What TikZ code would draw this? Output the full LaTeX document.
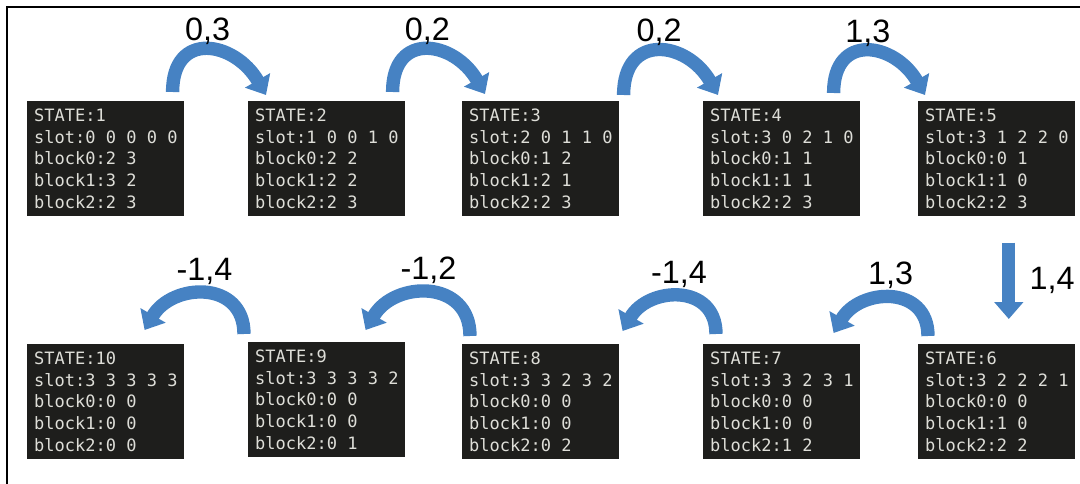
\documentclass[tikz,border=0pt]{standalone}
\usepackage{fontspec}
\setmainfont{Liberation Sans}
\newfontfamily\statefont{DejaVu Sans Mono}
\usetikzlibrary{arrows.meta}
\definecolor{boxbg}{RGB}{30,30,28}
\definecolor{boxfg}{RGB}{222,222,216}
\definecolor{arrowblue}{RGB}{70,130,195}

\begin{document}
\begin{tikzpicture}[x=0.025cm, y=0.025cm]

\tikzstyle{statebox} = [anchor=north west, rectangle, fill=boxbg, text=boxfg, font=\statefont\fontsize{12.1}{15.6}\selectfont, align=left, inner xsep=0pt, inner ysep=0pt, minimum width=3.925cm, minimum height=2.875cm]
\tikzstyle{movearrow} = [line width=9.5pt, arrowblue, -{Triangle[width=20pt,length=12pt]}]
\tikzstyle{lbl} = [font=\fontsize{23}{23}\selectfont, text=black, inner sep=0pt]

\useasboundingbox (0,0) rectangle (1080,-484);
\draw[line width=1.5pt] (7,-484) -- (7,-7) -- (1080,-7);

\node[statebox] (st1) at (27,-101) {STATE:1\\slot:0 0 0 0 0\\block0:2 3\\block1:3 2\\block2:2 3};
\node[statebox] (st2) at (248,-101) {STATE:2\\slot:1 0 0 1 0\\block0:2 2\\block1:2 2\\block2:2 3};
\node[statebox] (st3) at (462,-101) {STATE:3\\slot:2 0 1 1 0\\block0:1 2\\block1:2 1\\block2:2 3};
\node[statebox] (st4) at (703,-101) {STATE:4\\slot:3 0 2 1 0\\block0:1 1\\block1:1 1\\block2:2 3};
\node[statebox] (st5) at (918,-101) {STATE:5\\slot:3 1 2 2 0\\block0:0 1\\block1:1 0\\block2:2 3};

\node[statebox] (st6) at (918,-344) {STATE:6\\slot:3 2 2 2 1\\block0:0 0\\block1:1 0\\block2:2 2};
\node[statebox] (st7) at (703,-344) {STATE:7\\slot:3 3 2 3 1\\block0:0 0\\block1:0 0\\block2:1 2};
\node[statebox] (st8) at (462,-344) {STATE:8\\slot:3 3 2 3 2\\block0:0 0\\block1:0 0\\block2:0 2};
\node[statebox] (st9) at (248,-342) {STATE:9\\slot:3 3 3 3 2\\block0:0 0\\block1:0 0\\block2:0 1};
\node[statebox] (st10) at (27,-344) {STATE:10\\slot:3 3 3 3 3\\block0:0 0\\block1:0 0\\block2:0 0};

\draw[movearrow] ([shift={(-12,9)}]st1.north east) to[out=90, in=120, looseness=1.7] node[lbl, above=-1pt] {0,3} ([shift={(18,6)}]st2.north west);
\draw[movearrow] ([shift={(-13,9)}]st2.north east) to[out=90, in=120, looseness=1.7] node[lbl, above=-1pt] {0,2} ([shift={(23,7)}]st3.north west);
\draw[movearrow] ([shift={(4,6)}]st3.north east) to[out=90, in=120, looseness=1.7] node[lbl, above=-1pt] {0,2} ([shift={(15,6)}]st4.north west);
\draw[movearrow] ([shift={(-27,8)}]st4.north east) to[out=90, in=120, looseness=1.7] node[lbl, above=-1pt] {1,3} ([shift={(7,6)}]st5.north west);

\draw[movearrow] ([shift={(12,-26)}]st5.south) -- node[lbl, right=10pt] {1,4} ([shift={(12,25)}]st6.north);

\draw[movearrow] ([shift={(10,8)}]st6.north west) to[out=90, in=60, looseness=1.4] node[lbl, above=2pt] {1,3} ([shift={(-27,11)}]st7.north east);
\draw[movearrow] ([shift={(13,10)}]st7.north west) to[out=90, in=60, looseness=1.4] node[lbl, above=2pt] {-1,4} ([shift={(3,13)}]st8.north east);
\draw[movearrow] ([shift={(8,8)}]st8.north west) to[out=90, in=60, looseness=1.4] node[lbl, above=2pt] {-1,2} ([shift={(-40,12)}]st9.north east);
\draw[movearrow] ([shift={(-4,8)}]st9.north west) to[out=90, in=60, looseness=1.4] node[lbl, above=2pt] {-1,4} ([shift={(-40,14)}]st10.north east);
\end{tikzpicture}
\end{document}
